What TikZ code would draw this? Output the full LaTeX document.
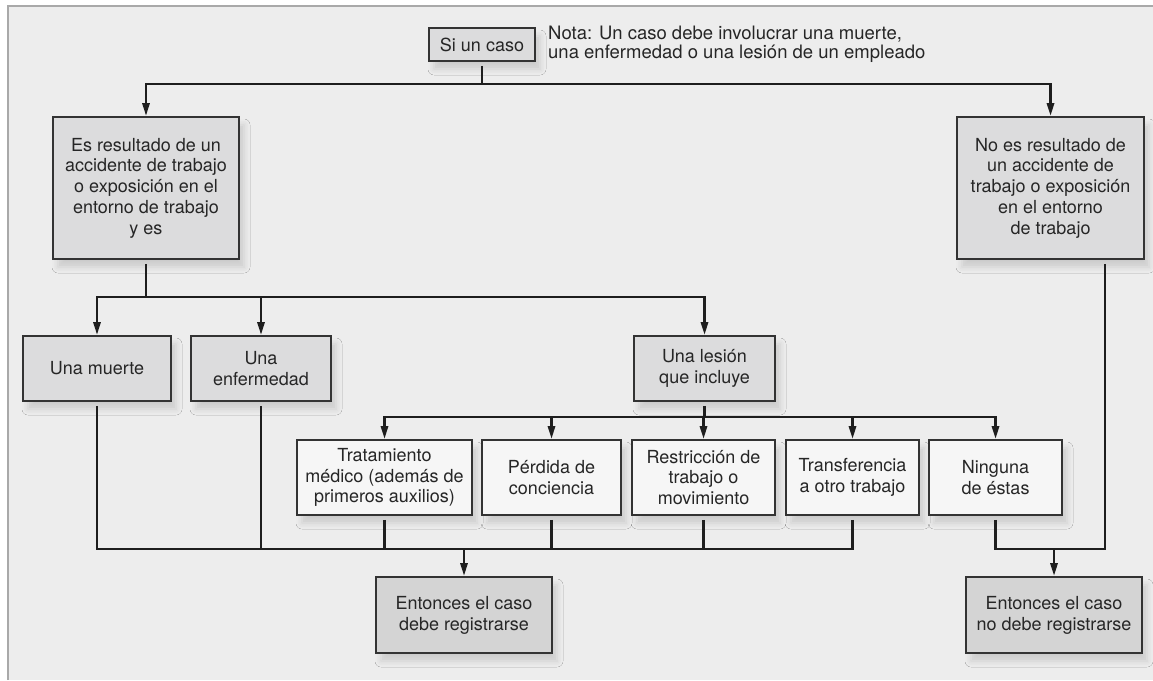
\documentclass[tikz,border=0pt]{standalone}
\usepackage{fontspec}
\setmainfont{TeX Gyre Heros}
\usetikzlibrary{arrows.meta,shadows.blur}

\definecolor{paper}{HTML}{EDEDED}
\definecolor{framegray}{HTML}{A9A9A9}
\definecolor{boxline}{HTML}{333333}
\definecolor{ink}{HTML}{262626}
\definecolor{wire}{HTML}{1E1E1E}
\definecolor{midfill}{HTML}{DCDCDD}
\definecolor{endfill}{HTML}{D4D4D4}
\definecolor{optfill}{HTML}{F6F6F6}

\tikzset{
  box/.style={draw=boxline, line width=1.6pt, text=ink, align=center,
    inner sep=0pt, font=\fontsize{18}{20.8}\selectfont,
    blur shadow={shadow xshift=5pt, shadow yshift=-8pt,
      shadow blur radius=6pt, shadow opacity=14}},
  midbox/.style={box, fill=midfill},
  endbox/.style={box, fill=endfill},
  optbox/.style={box, fill=optfill},
  conn/.style={draw=wire, line width=2.8pt},
  arr/.style={-{Triangle[length=13pt,width=7pt]}},
  leave/.style={shorten <=4pt}
}

\begin{document}
\begin{tikzpicture}[x=1pt,y=-1pt]
\useasboundingbox (0,0) rectangle (1153,680);
\fill[white] (0,0) rectangle (1153,680);
\fill[paper] (8,6) rectangle (1153,680);
\draw[framegray, line width=2pt] (8,680) -- (8,6) -- (1153,6);

% top of the chart
\node[midbox, minimum width=106pt, minimum height=33pt] (si) at (482,44.5) {Si un caso};
\node[text=ink, align=left, anchor=north west, inner sep=0pt,
  font=\fontsize{18.5}{18.8}\selectfont] (nota) at (548,26)
  {Nota: Un caso debe involucrar una muerte,\\una enfermedad o una lesión de un empleado};

\node[midbox, minimum width=186pt, minimum height=142pt] (work) at (146,188)
  {Es resultado de un\\accidente de trabajo\\o exposición en el\\entorno de trabajo\\y es};
\node[midbox, minimum width=187pt, minimum height=142pt] (nowork) at (1050.5,188)
  {No es resultado de\\un accidente de\\trabajo o exposición\\en el entorno\\de trabajo};

% second level
\node[midbox, minimum width=148pt, minimum height=65pt] (muerte) at (97,368.5) {Una muerte};
\node[midbox, minimum width=140pt, minimum height=65pt] (enf) at (261,368.5) {Una\\enfermedad};
\node[midbox, minimum width=141pt, minimum height=65pt] (lesion) at (704.5,368.5) {Una lesión\\que incluye};

% kinds of injury
\node[optbox, minimum width=175pt, minimum height=75pt] (trat) at (384.5,477.5)
  {Tratamiento\\médico (además de\\primeros auxilios)};
\node[optbox, minimum width=139pt, minimum height=75pt] (perd) at (551.5,477.5)
  {Pérdida de\\conciencia};
\node[optbox, minimum width=143pt, minimum height=75pt] (restr) at (703.5,477.5)
  {Restricción de\\trabajo o\\movimiento};
\node[optbox, minimum width=133pt, minimum height=75pt] (transf) at (852.5,477.5)
  {Transferencia\\a otro trabajo};
\node[optbox, minimum width=133pt, minimum height=75pt] (ning) at (995.5,477.5)
  {Ninguna\\de éstas};

% outcomes
\node[endbox, minimum width=176pt, minimum height=76pt] (sireg) at (464,615)
  {Entonces el caso\\debe registrarse};
\node[endbox, minimum width=176pt, minimum height=76pt] (noreg) at (1054,615)
  {Entonces el caso\\no debe registrarse};

% junctions
\coordinate (t1) at (482,84);
\coordinate (t2) at (146,297);
\coordinate (t3) at (704.5,417);
\coordinate (b1) at (464,549);
\coordinate (b2) at (1054,549);

% connectors
\draw[conn, leave] (si.south) -- (t1);
\draw[conn, arr] (t1) -| (work.north);
\draw[conn, arr] (t1) -| (nowork.north);

\draw[conn, leave] (work.south) -- (t2);
\draw[conn, arr] (t2) -| (muerte.north);
\draw[conn, arr] (t2) -| (enf.north);
\draw[conn, arr] (t2) -| (lesion.north);

\draw[conn, leave] (lesion.south) -- (t3);
\foreach \n in {trat,perd,restr,transf,ning}
  \draw[conn, arr] (t3) -| (\n.north);

\foreach \n in {muerte,enf,trat,perd,restr,transf}
  \draw[conn, leave] (\n.south) |- (b1);
\draw[conn, arr] (b1) -- (sireg.north);

\draw[conn, leave] ([xshift=54.5pt]nowork.south) |- (b2);
\draw[conn, leave] (ning.south) |- (b2);
\draw[conn, arr] (b2) -- (noreg.north);
\end{tikzpicture}
\end{document}
